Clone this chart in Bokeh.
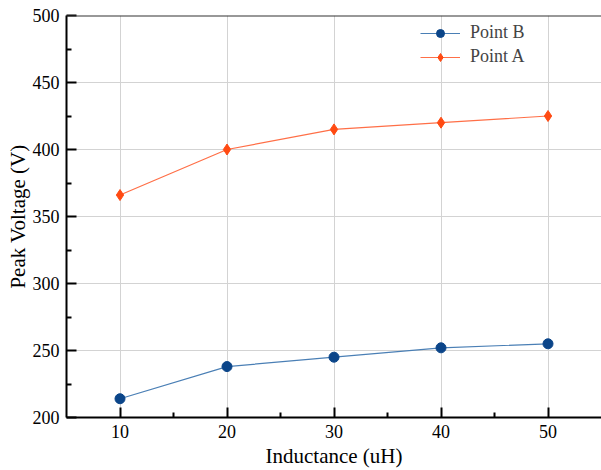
from bokeh.plotting import figure
from bokeh.models import Range1d, FixedTicker, Legend, LegendItem, Span
from bokeh.embed import file_html
from bokeh.resources import INLINE

inductance = [10, 20, 30, 40, 50]
point_b = [214, 238, 245, 252, 255]
point_a = [366, 400, 415, 420, 425]
x_ticks = [10, 20, 30, 40, 50]
y_ticks = [200, 250, 300, 350, 400, 450, 500]

FONT = "Liberation Serif"

p = figure(width=601, height=470, output_backend="svg", toolbar_location=None,
           x_range=Range1d(5, 55), y_range=Range1d(200, 500),
           min_border_left=66, min_border_right=0, min_border_top=15, min_border_bottom=53)
p.outline_line_color = None
p.background_fill_color = "white"
p.border_fill_color = "white"

for ax in (p.xaxis[0], p.yaxis[0]):
    ax.axis_line_width = 2
    ax.axis_line_color = "black"
    ax.major_tick_in = 10
    ax.major_tick_out = 0
    ax.minor_tick_in = 5
    ax.minor_tick_out = 0
    ax.major_tick_line_width = 2
    ax.minor_tick_line_width = 2
    ax.major_label_text_font = FONT
    ax.major_label_text_font_size = "18px"
    ax.major_label_text_color = "black"
    ax.axis_label_text_font = FONT
    ax.axis_label_text_font_size = "21px"
    ax.axis_label_text_font_style = "normal"
    ax.axis_label_text_color = "black"

p.xaxis[0].ticker = FixedTicker(ticks=x_ticks, minor_ticks=[15, 25, 35, 45])
p.yaxis[0].ticker = FixedTicker(ticks=y_ticks, minor_ticks=[225, 275, 325, 375, 425, 475])
p.xaxis.axis_label = "Inductance (uH)"
p.yaxis.axis_label = "Peak Voltage (V)"
p.xaxis.major_label_standoff = 7
p.yaxis.major_label_standoff = 7
p.xaxis.axis_label_standoff = 3
p.yaxis.axis_label_standoff = 0

top_line = Span(location=p.y_range.end, dimension="width", line_color="#333333", line_width=2)
p.add_layout(top_line)

p.xgrid.ticker = FixedTicker(ticks=x_ticks)
p.ygrid.ticker = FixedTicker(ticks=y_ticks)
p.grid.grid_line_color = "#d3d3d3"
p.grid.grid_line_width = 1

lb = p.line(inductance, point_b, line_color="#4a7fb5", line_width=1.2)
sb = p.scatter(inductance, point_b, marker="circle", size=10, fill_color="#0b4589", line_color="#0b4589")
la = p.line(inductance, point_a, line_color="#ff6f47", line_width=1.2)
sa = p.scatter(inductance, point_a, marker="diamond", size=11, fill_color="#ff4a12", line_color="#ff4a12")

legend = Legend(items=[LegendItem(label="Point B", renderers=[lb, sb]),
                       LegendItem(label="Point A", renderers=[la, sa])],
                location=(354, 350), border_line_color=None, background_fill_alpha=0,
                label_text_font=FONT, label_text_font_size="18px",
                glyph_width=40, glyph_height=20, label_standoff=10, spacing=3,
                padding=5, margin=0)
p.add_layout(legend)

open("out.html", "w").write(file_html(p, INLINE))
